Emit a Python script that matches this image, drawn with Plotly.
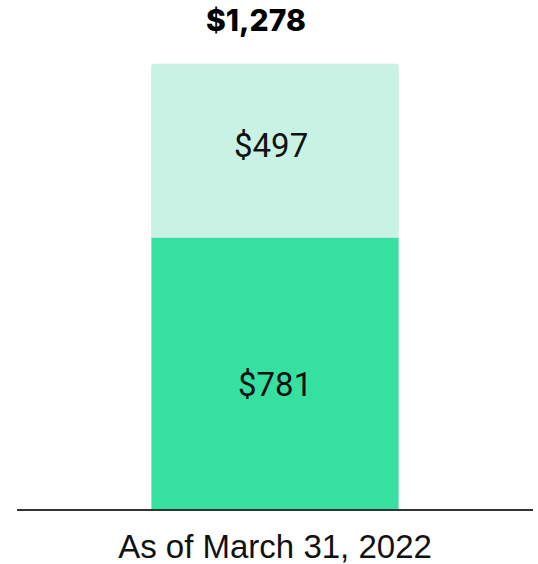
import plotly.graph_objects as go

# data
categories = ["As of March 31, 2022"]
base_values = [781]
top_values = [497]
total_values = [b + t for b, t in zip(base_values, top_values)]

BASE_COLOR = "#35E0A1"
TOP_COLOR = "#C8F2E3"
LABEL_FONT = dict(family="Roboto", size=33, color="#111")

fig = go.Figure()
fig.add_trace(go.Bar(x=categories, y=base_values, marker_color=BASE_COLOR,
                     width=0.48, hoverinfo="y"))
fig.add_trace(go.Bar(x=categories, y=top_values, marker_color=TOP_COLOR,
                     width=0.48, hoverinfo="y"))

for c, b, t, tot in zip(categories, base_values, top_values, total_values):
    # segment labels (the original sits them slightly off-centre)
    fig.add_annotation(x=c, y=b / 2, text=f"${b:,}", showarrow=False,
                       yshift=-11, font=LABEL_FONT)
    fig.add_annotation(x=c, y=b + t / 2, text=f"${t:,}", showarrow=False,
                       yshift=5, xshift=-4, font=LABEL_FONT)
    fig.add_annotation(x=c, y=tot, text=f"${tot:,}", showarrow=False,
                       yanchor="bottom", yshift=24, xshift=-19,
                       font=dict(family="Inter", size=30, color="#000",
                                 weight=800))

fig.update_layout(
    barmode="stack",
    barcornerradius=3,
    width=538, height=564,
    margin=dict(l=17, r=5, t=10, b=55),
    plot_bgcolor="white", paper_bgcolor="white",
    showlegend=False,
)
fig.update_xaxes(
    showline=True, linecolor="#333", linewidth=1.5,
    tickfont=dict(family="Liberation Sans", size=33, color="#111"),
    ticks="", showgrid=False, automargin=False, ticklabelstandoff=8,
)
fig.update_yaxes(visible=False, range=[0, 1433], showgrid=False, zeroline=False,
                 automargin=False)

fig.write_html(
    "out.html",
    config={"displayModeBar": False},
    post_script="document.body.style.margin='0';document.body.style.overflow='hidden';",
)
